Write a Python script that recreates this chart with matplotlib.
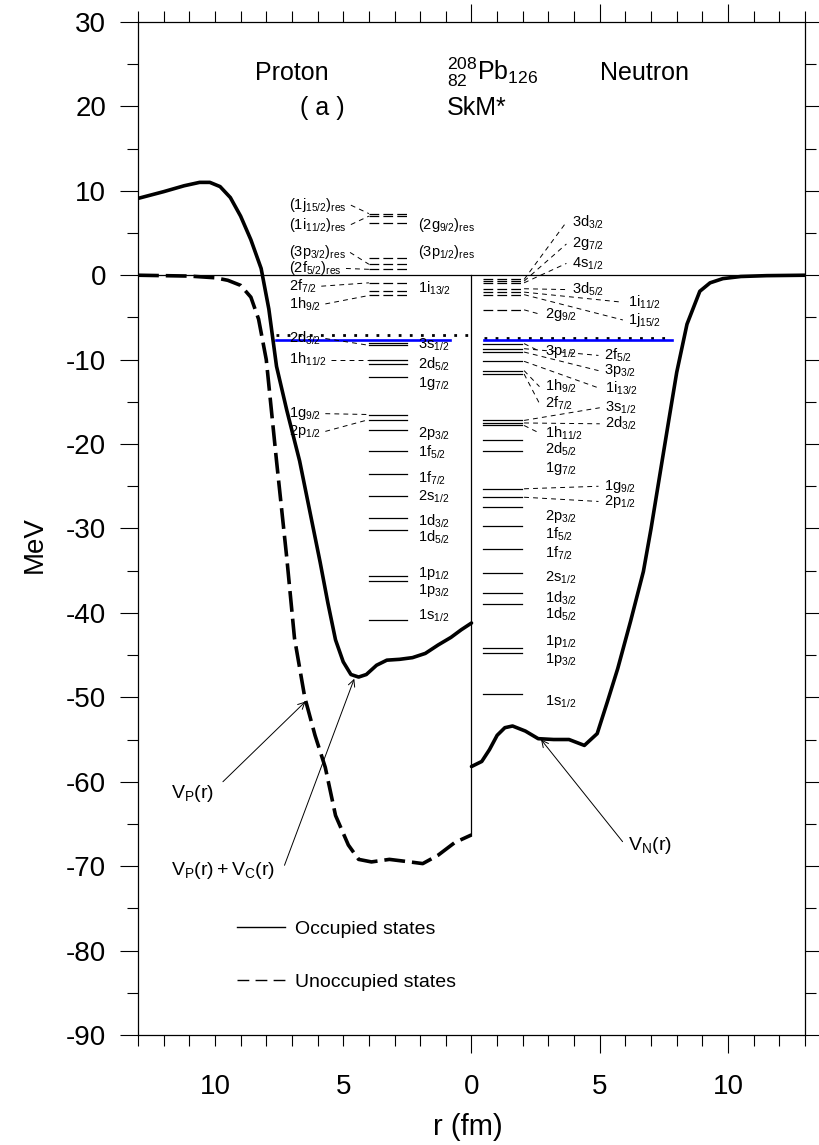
import numpy as np
import matplotlib
matplotlib.use('Agg')
import matplotlib.pyplot as plt
from matplotlib.lines import Line2D

plt.rcParams['font.family'] = ['Liberation Sans', 'DejaVu Sans']
plt.rcParams['mathtext.fontset'] = 'custom'
plt.rcParams['mathtext.rm'] = 'Liberation Sans'
plt.rcParams['mathtext.it'] = 'Liberation Sans:italic'
plt.rcParams['mathtext.bf'] = 'Liberation Sans:bold'
plt.rcParams['lines.scale_dashes'] = False
plt.rcParams['axes.unicode_minus'] = False

# potentials, r in fm, energies in MeV
# proton V_P + V_C (solid)
r_pc = [13.0, 12.0, 11.2, 10.6, 10.2, 9.8, 9.4, 9.0, 8.6, 8.2, 7.9, 7.6, 7.2, 6.7, 6.3,
        5.9, 5.6, 5.3, 5.0, 4.7, 4.4, 4.1, 3.7, 3.3, 2.8, 2.3, 1.8, 1.3, 0.8, 0.4, 0.0]
v_pc = [9.1, 9.9, 10.6, 11.0, 11.0, 10.5, 9.2, 7.0, 4.2, 0.8, -4.0, -10.8, -16.0, -22.0, -28.0,
        -34.0, -38.8, -43.2, -45.8, -47.3, -47.6, -47.3, -46.2, -45.6, -45.5, -45.3, -44.8,
        -43.8, -42.9, -42.0, -41.2]
# proton V_P (dashed)
r_pn = [13.0, 12.0, 11.0, 10.0, 9.5, 9.0, 8.6, 8.3, 8.0, 7.6, 7.2, 6.9, 6.5, 6.1, 5.7, 5.3,
        4.8, 4.4, 3.9, 3.2, 2.4, 1.9, 1.3, 0.65, 0.0]
v_pn = [0.0, -0.05, -0.1, -0.3, -0.6, -1.2, -2.6, -5.2, -10.0, -22.0, -33.5, -43.0, -50.0,
        -54.5, -58.3, -64.0, -67.5, -69.2, -69.5, -69.2, -69.5, -69.7, -68.7, -67.2, -66.3]
# neutron V_N
r_n = [0.0, 0.4, 0.7, 1.0, 1.3, 1.6, 2.1, 2.6, 3.2, 3.8, 4.4, 4.9, 5.3, 5.7, 6.2, 6.7, 7.0,
       7.36, 7.7, 8.0, 8.4, 8.9, 9.3, 9.8, 10.5, 11.5, 13.0]
v_n = [-58.2, -57.6, -56.2, -54.5, -53.6, -53.4, -54.0, -54.9, -55.0, -55.0, -55.7, -54.3,
       -50.5, -46.6, -41.0, -35.1, -30.0, -23.3, -17.0, -11.5, -5.8, -1.9, -0.9, -0.4,
       -0.15, -0.05, 0.0]

# fermi energies
p_fermi = -7.1
n_fermi = -7.4
blue_fermi = -7.65
p_fermi_r = (7.64, 0.85)
n_fermi_r = (0.47, 7.83)

# proton single-particle levels
p_names = ['1j15/2', '1i11/2', '2g9/2', '3p1/2', '3p3/2', '2f5/2', '2f7/2', '1i13/2', '1h9/2',
           '3s1/2', '2d3/2', '1h11/2', '2d5/2', '1g7/2', '1g9/2', '2p1/2', '2p3/2', '1f5/2',
           '1f7/2', '2s1/2', '1d3/2', '1d5/2', '1p1/2', '1p3/2', '1s1/2']
p_energy = [7.3, 7.0, 6.2, 2.0, 1.3, 0.7, -0.9, -1.9, -2.4,
            -8.0, -8.3, -10.0, -10.5, -12.0, -16.5, -17.1, -18.3, -20.8,
            -23.6, -26.1, -28.7, -30.2, -35.6, -36.2, -40.8]
p_occupied = [0, 0, 0, 0, 0, 0, 0, 0, 0,
              1, 1, 1, 1, 1, 1, 1, 1, 1, 1, 1, 1, 1, 1, 1, 1]
p_res = [1, 1, 1, 1, 1, 1, 0, 0, 0,
         0, 0, 0, 0, 0, 0, 0, 0, 0, 0, 0, 0, 0, 0, 0, 0]

# neutron single-particle levels
n_names = ['3d3/2', '2g7/2', '4s1/2', '3d5/2', '1i11/2', '1j15/2', '2g9/2',
           '3p1/2', '2f5/2', '3p3/2', '1i13/2', '1h9/2', '2f7/2', '3s1/2', '2d3/2', '1h11/2',
           '2d5/2', '1g7/2', '1g9/2', '2p1/2', '2p3/2', '1f5/2', '1f7/2', '2s1/2', '1d3/2',
           '1d5/2', '1p1/2', '1p3/2', '1s1/2']
n_energy = [-0.5, -0.7, -0.9, -1.6, -2.0, -2.3, -4.1,
            -8.1, -8.7, -9.1, -10.2, -11.3, -11.7, -17.2, -17.5, -17.8,
            -19.5, -20.8, -25.3, -26.3, -27.5, -29.7, -32.4, -35.3, -37.6,
            -38.9, -44.2, -44.8, -49.6]
n_occupied = [0, 0, 0, 0, 0, 0, 0,
              1, 1, 1, 1, 1, 1, 1, 1, 1, 1, 1, 1, 1, 1, 1, 1, 1, 1, 1, 1, 1, 1]

# label layout
p_label_side = ['L', 'L', 'R', 'R', 'L', 'L', 'L', 'R', 'L',
                'R', 'L', 'L', 'R', 'R', 'L', 'L', 'R', 'R', 'R', 'R', 'R', 'R', 'R', 'R', 'R']
p_label_y = [8.3, 6.0, 6.0, 2.8, 2.7, 0.8, -1.3, -1.5, -3.4,
             -8.3, -7.5, -10.0, -10.6, -12.8, -16.4, -18.5, -18.7, -21.0,
             -24.1, -26.2, -29.1, -31.0, -35.3, -37.3, -40.4]
n_label_x = [3.9, 3.9, 3.9, 3.9, 6.1, 6.1, 2.85,
             2.85, 5.15, 5.15, 5.2, 2.85, 2.85, 5.2, 5.2, 2.85,
             2.85, 2.85, 5.15, 5.15, 2.85, 2.85, 2.85, 2.85, 2.85, 2.85, 2.85, 2.85, 2.85]
n_label_y = [6.3, 3.7, 1.4, -1.7, -3.2, -5.3, -4.6,
             -9.0, -9.5, -11.3, -13.4, -13.2, -15.2, -15.7, -17.6, -18.7,
             -20.6, -22.9, -25.0, -26.8, -28.6, -30.7, -33.0, -35.9, -38.3,
             -40.2, -43.4, -45.5, -50.5]
n_link = [1, 1, 1, 1, 1, 1, 1,
          1, 1, 1, 1, 1, 1, 1, 1, 1,
          0, 0, 1, 1, 0, 0, 0, 0, 0, 0, 0, 0, 0]

P_SPAN = (-4.0, -2.5)
N_SPAN = (0.45, 1.95)
LEVEL_DASH = (7, 3)
LINK_DASH = (3.5, 3)
LAB_FS = 10.5


def state_label(name, res=False):
    core = r'\mathrm{' + name[:2] + r'}_{\mathrm{' + name[2:] + '}}'
    if res:
        core = r'\mathrm{(}' + core + r'\mathrm{)}_{\mathrm{res}}'
    return '$' + core + '$'


fig = plt.figure(figsize=(8.19, 11.45), dpi=100)
ax = fig.add_axes([0.1685, 0.0961, 0.8144, 0.8847])

# potentials (proton side drawn at negative x)
ax.plot(-np.array(r_pc), v_pc, color='k', lw=2.6, solid_capstyle='round')
ax.plot(-np.array(r_pn), v_pn, color='k', lw=2.6, dashes=(15, 5))
ax.plot(r_n, v_n, color='k', lw=2.6, solid_capstyle='round')

ax.axhline(0, color='k', lw=0.9)
ax.plot([0, 0], [0, v_pn[-1]], color='k', lw=0.9)

# fermi levels
ax.plot([-p_fermi_r[0], 0], [p_fermi, p_fermi], color='k', lw=2.0, dashes=(2, 6))
ax.plot(n_fermi_r, [n_fermi, n_fermi], color='k', lw=2.0, dashes=(2, 6))
ax.plot([-p_fermi_r[0], -p_fermi_r[1]], [blue_fermi, blue_fermi], color='#0000ff', lw=1.9)
ax.plot(n_fermi_r, [blue_fermi, blue_fermi], color='#0000ff', lw=1.9)

# proton levels
left_texts = []
for name, e, occ, res, side, ly in zip(p_names, p_energy, p_occupied, p_res,
                                       p_label_side, p_label_y):
    if occ:
        ax.plot(P_SPAN, [e, e], color='k', lw=0.9)
    else:
        ax.plot(P_SPAN, [e, e], color='k', lw=0.9, dashes=LEVEL_DASH)
    if side == 'L':
        t = ax.text(-7.1, ly, state_label(name, res), fontsize=LAB_FS, ha='left', va='center')
        left_texts.append((t, ly, e))
    else:
        ax.text(-2.1, ly, state_label(name, res), fontsize=LAB_FS, ha='left', va='center')

# neutron levels
for name, e, occ, lx, ly, link in zip(n_names, n_energy, n_occupied, n_label_x,
                                      n_label_y, n_link):
    if occ:
        ax.plot(N_SPAN, [e, e], color='k', lw=0.9)
    else:
        ax.plot(N_SPAN, [e, e], color='k', lw=0.9, dashes=LEVEL_DASH)
    ax.text(lx, ly, state_label(name), fontsize=LAB_FS, ha='left', va='center')
    if link:
        ax.plot([N_SPAN[1] + 0.1, lx - 0.2], [e, ly], color='k', lw=0.7, dashes=LINK_DASH)

# headings
ax.text(-7.0, 24.0, 'Proton', fontsize=18, ha='center', va='center')
ax.text(-5.8, 19.8, '( a )', fontsize=18, ha='center', va='center')
ax.text(-0.95, 24.0, r'${}^{208}_{82}\mathrm{Pb}_{126}$', fontsize=18, ha='left', va='center')
ax.text(-0.95, 19.8, 'SkM*', fontsize=18, ha='left', va='center')
ax.text(5.0, 24.0, 'Neutron', fontsize=18, ha='left', va='center')

# potential labels
arrow = dict(arrowstyle='->', lw=0.7, color='k', shrinkA=0, shrinkB=0, mutation_scale=12)
ax.annotate('', xy=(-6.47, -50.5), xytext=(-9.69, -60.0), arrowprops=arrow)
ax.text(-11.7, -61.4, r'$\mathrm{V}_{\mathrm{P}}\mathrm{(r)}$', fontsize=14, ha='left', va='center')
ax.annotate('', xy=(-4.57, -47.8), xytext=(-7.29, -69.9), arrowprops=arrow)
ax.text(-11.7, -70.5, r'$\mathrm{V}_{\mathrm{P}}\mathrm{(r)+V}_{\mathrm{C}}\mathrm{(r)}$',
        fontsize=14, ha='left', va='center')
ax.annotate('', xy=(2.71, -55.0), xytext=(5.89, -67.1), arrowprops=arrow)
ax.text(6.12, -67.6, r'$\mathrm{V}_{\mathrm{N}}\mathrm{(r)}$', fontsize=14, ha='left', va='center')

ax.set_xlim(-13, 13)
ax.set_ylim(-90, 30)

ax.set_xticks([0, 5, 10], labels=['0', '5', '10'])
minor_x = np.arange(-13, 14)
ax.set_xticks(minor_x, labels=['10' if v == -10 else '5' if v == -5 else '' for v in minor_x],
              minor=True)
ax.set_yticks(np.arange(-90, 31, 10))
ax.set_yticks(np.arange(-85, 30, 10), minor=True)
ax.tick_params(which='both', direction='out', top=True, right=True, width=0.8, labelsize=20)
ax.tick_params(which='major', length=13)
ax.tick_params(which='minor', length=8)
ax.tick_params(axis='x', which='major', pad=15)
ax.tick_params(axis='x', which='minor', pad=20)
ax.tick_params(axis='y', which='both', pad=10)
for s in ax.spines.values():
    s.set_linewidth(0.9)

ax.set_xlabel('r (fm)', fontsize=21)
ax.set_ylabel('MeV', fontsize=20)
ax.xaxis.set_label_coords(0.495, -0.077)
ax.yaxis.set_label_coords(-0.135, 0.484)

handles = [Line2D([], [], color='k', lw=1.0),
           Line2D([], [], color='k', lw=1.0, dashes=(8.5, 4.5))]
ax.legend(handles, ['Occupied states', 'Unoccupied states'], loc='upper left',
          bbox_to_anchor=(0.148, 0.113), frameon=False, fontsize=14, borderpad=0,
          borderaxespad=0, handlelength=2.5, handletextpad=0.5, labelspacing=1.8)

# connectors for proton labels on the left
fig.canvas.draw()
inv = ax.transData.inverted()
for t, ly, e in left_texts:
    bb = t.get_window_extent()
    xe = inv.transform((bb.x1, bb.y0))[0]
    ax.plot([xe + 0.15, P_SPAN[0]], [ly, e], color='k', lw=0.7, dashes=LINK_DASH)

fig.savefig('out.png', dpi=100)
